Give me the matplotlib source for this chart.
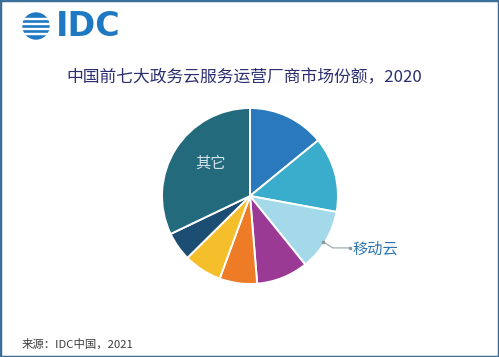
import matplotlib.pyplot as plt
from matplotlib.patches import Circle, Rectangle
import numpy as np

plt.rcParams['font.family'] = ['Noto Sans CJK SC', 'DejaVu Sans']

# share of the seven largest vendors plus the rest, clockwise from 12 o'clock
labels = ['', '', '移动云', '', '', '', '', '其它']
shares = [14.1, 13.8, 11.3, 9.5, 6.9, 7.0, 5.3, 32.1]
colors = ['#2a79bd', '#3aaccc', '#a3d9e8', '#9b3a94', '#ee7b25', '#f4bf2a', '#1c4d72', '#236a7c']

title = '中国前七大政务云服务运营厂商市场份额，2020'
source = '来源：IDC中国，2021'

W, H = 499, 357
fig = plt.figure(figsize=(W / 100, H / 100), dpi=100)
fig.patch.set_facecolor('white')

# pie axes placed in pixel terms
cx, cy, r = 250, 196, 88
ax = fig.add_axes([(cx - r) / W, (H - cy - r) / H, 2 * r / W, 2 * r / H])
wedges, _ = ax.pie(shares, colors=colors, startangle=90, counterclock=False,
                   radius=1, wedgeprops=dict(edgecolor='white', linewidth=1.4))
ax.set_xlim(-1, 1)
ax.set_ylim(-1, 1)
ax.set_aspect('equal')
ax.axis('off')

# inside label for the biggest slice
ax.text(-0.45, 0.375, labels[7], color='#d2e3ea', fontsize=11,
        ha='center', va='center')

# leader line + label for 移动云
lx = [0.83, 0.94, 1.14]
ly = [-0.52, -0.59, -0.59]
ax.plot(lx, ly, color='#9aa4aa', lw=0.8, clip_on=False)
ax.plot([lx[0], lx[-1]], [ly[0], ly[-1]], 'o', ms=1.6, color='#8d979d', clip_on=False)
ax.text(1.16, -0.6, labels[2], color='#2e75b0', fontsize=11,
        ha='left', va='center', clip_on=False)

# title and source
fig.text(66 / W, 1 - 78 / H, title, color='#2b2f6e', fontsize=12.1,
         ha='left', va='center')
fig.text(22 / W, 1 - 344 / H, source, color='#3c3c3c', fontsize=8.2,
         ha='left', va='center')

# IDC logo: striped globe + wordmark
lax = fig.add_axes([0, 0, 1, 1], facecolor='none')
lax.set_xlim(0, W)
lax.set_ylim(H, 0)
lax.axis('off')
lax.add_patch(Circle((36, 26), 13, color='#1e78c2'))
for yy in [17.5, 22.5, 27.5, 32.5]:
    lax.add_patch(Rectangle((20, yy), 32, 1.4, color='white'))
lax.text(56, 27, 'IDC', color='#1e78c2', fontsize=24, fontweight='bold',
         family='DejaVu Sans', ha='left', va='center')

# thin blue frame round the picture
fig.patches.append(Rectangle((0, 0), 1, 1, transform=fig.transFigure, fill=False,
                             edgecolor='#3b6e99', lw=2.5))

fig.savefig('out.png', dpi=100)
